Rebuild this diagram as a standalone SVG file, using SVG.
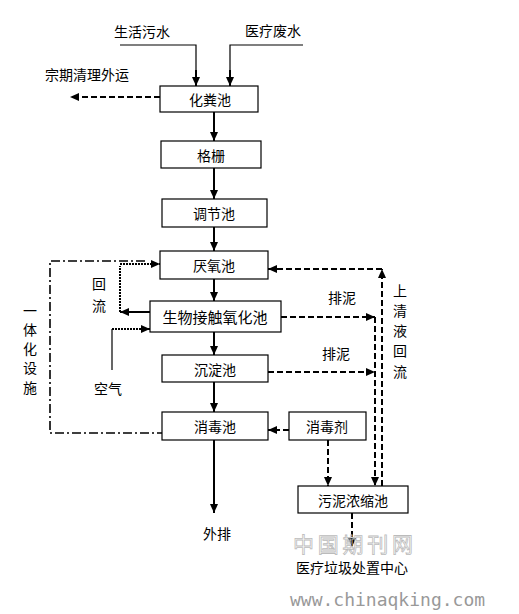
<svg xmlns="http://www.w3.org/2000/svg" width="519" height="614" viewBox="0 0 519 614">
<style>
.box{fill:#fff;stroke:#000;stroke-width:1.2}
.t{font-family:"Noto Sans CJK SC","Liberation Sans",sans-serif;font-size:14px;fill:#000;text-anchor:middle;dominant-baseline:central}
.s{fill:none;stroke:#000;stroke-width:2}
.thin{fill:none;stroke:#000;stroke-width:1.2}
.d{fill:none;stroke:#000;stroke-width:2;stroke-dasharray:6,3}
.dot{fill:none;stroke:#000;stroke-width:2;stroke-dasharray:2,1}
.dd{fill:none;stroke:#000;stroke-width:1.6;stroke-dasharray:9,3,2,3}
.wm{font-family:"Liberation Serif","Noto Sans CJK SC",serif;font-size:21px;fill:none;stroke:#bbb;stroke-width:0.8}
.url{font-family:"DejaVu Sans Mono","Liberation Mono",monospace;font-size:18px;fill:#999}
</style>
<defs>
<marker id="a" markerWidth="9" markerHeight="8" refX="9" refY="4" orient="auto" markerUnits="userSpaceOnUse">
<path d="M0,0 L9,4 L0,8 z" fill="#000"/>
</marker>
</defs>
<rect width="519" height="614" fill="#fff"/>
<g id="connectors">
<path class="thin" d="M120,45 H196 V77"/>
<path class="s" d="M196,70 V86" marker-end="url(#a)"/>
<path class="thin" d="M303,45 H230 V77"/>
<path class="s" d="M230,70 V86" marker-end="url(#a)"/>
<path class="d" d="M160,97 H70" marker-end="url(#a)"/>
<path class="s" d="M214,112 V141" marker-end="url(#a)"/>
<path class="s" d="M214,168 V199" marker-end="url(#a)"/>
<path class="s" d="M214,227 V251" marker-end="url(#a)"/>
<path class="s" d="M214,279 V301" marker-end="url(#a)"/>
<path class="s" d="M214,332 V355" marker-end="url(#a)"/>
<path class="s" d="M214,382 V412" marker-end="url(#a)"/>
<path class="s" d="M214,440 V513" marker-end="url(#a)"/>
<path class="s" d="M150,312 H120" marker-end="url(#a)"/>
<path class="dot" d="M120,312 V266"/>
<path class="dot" d="M120,264 H160" marker-end="url(#a)"/>
<path class="thin" d="M112,370 V329"/>
<path class="dot" d="M112,329 H150" marker-end="url(#a)"/>
<path class="dd" d="M145,261 H50 V433 H162"/>
<path class="d" d="M281,317 H375" marker-end="url(#a)"/>
<path class="d" d="M268,372 H375" marker-end="url(#a)"/>
<path class="d" d="M375,317 V486" marker-end="url(#a)"/>
<path class="d" d="M382,486 V269" marker-end="url(#a)"/>
<path class="d" d="M382,269 H268" marker-end="url(#a)"/>
<path class="d" d="M289,430 H268" marker-end="url(#a)"/>
<path class="d" d="M328,440 V486" marker-end="url(#a)"/>
<path class="d" d="M352,513 V547" marker-end="url(#a)"/>
</g>
<g id="n-shenghuo"><text class="t" x="142" y="31">生活污水</text></g>
<g id="n-yiliao"><text class="t" x="273" y="30">医疗废水</text></g>
<g id="n-waiyun"><text class="t" x="87" y="74">宗期清理外运</text></g>
<g id="n-huafen"><rect class="box" x="160" y="86" width="98" height="26"/><text class="t" x="210" y="99">化粪池</text></g>
<g id="n-gezha"><rect class="box" x="161" y="141" width="100" height="27"/><text class="t" x="211" y="155">格栅</text></g>
<g id="n-tiaojie"><rect class="box" x="162" y="199" width="105" height="28"/><text class="t" x="214" y="213">调节池</text></g>
<g id="n-yanyang"><rect class="box" x="160" y="251" width="108" height="28"/><text class="t" x="214" y="265">厌氧池</text></g>
<g id="n-shengwu"><rect class="box" x="150" y="301" width="131" height="31"/><text class="t" x="215" y="316" style="font-size:15px">生物接触氧化池</text></g>
<g id="n-chendian"><rect class="box" x="162" y="355" width="106" height="27"/><text class="t" x="215" y="369">沉淀池</text></g>
<g id="n-xiaodu"><rect class="box" x="162" y="412" width="106" height="28"/><text class="t" x="215" y="426">消毒池</text></g>
<g id="n-xiaoduji"><rect class="box" x="289" y="412" width="77" height="28"/><text class="t" x="327" y="426">消毒剂</text></g>
<g id="n-wuni"><rect class="box" x="298" y="486" width="110" height="27"/><text class="t" x="353" y="500">污泥浓缩池</text></g>
<g id="n-waipai"><text class="t" x="217" y="533">外排</text></g>
<g id="n-lajichuzhi"><text class="t" x="352" y="567">医疗垃圾处置中心</text></g>
<g id="labels">
<text class="t" x="99" y="283">回</text>
<text class="t" x="99" y="305">流</text>
<text class="t" x="108" y="388">空气</text>
<text class="t" x="342" y="297">排泥</text>
<text class="t" x="336" y="353">排泥</text>
<text class="t" x="400" y="290">上</text>
<text class="t" x="400" y="310">清</text>
<text class="t" x="400" y="330">液</text>
<text class="t" x="400" y="350">回</text>
<text class="t" x="400" y="371">流</text>
<text class="t" x="30" y="310">一</text>
<text class="t" x="30" y="329">体</text>
<text class="t" x="30" y="348">化</text>
<text class="t" x="30" y="367">设</text>
<text class="t" x="30" y="387">施</text>
</g>
<g id="watermark">
<text class="wm" x="293" y="552" textLength="120">中国期刊网</text>
<text class="url" x="290" y="606">www.chinaqking.com</text>
</g>
</svg>
